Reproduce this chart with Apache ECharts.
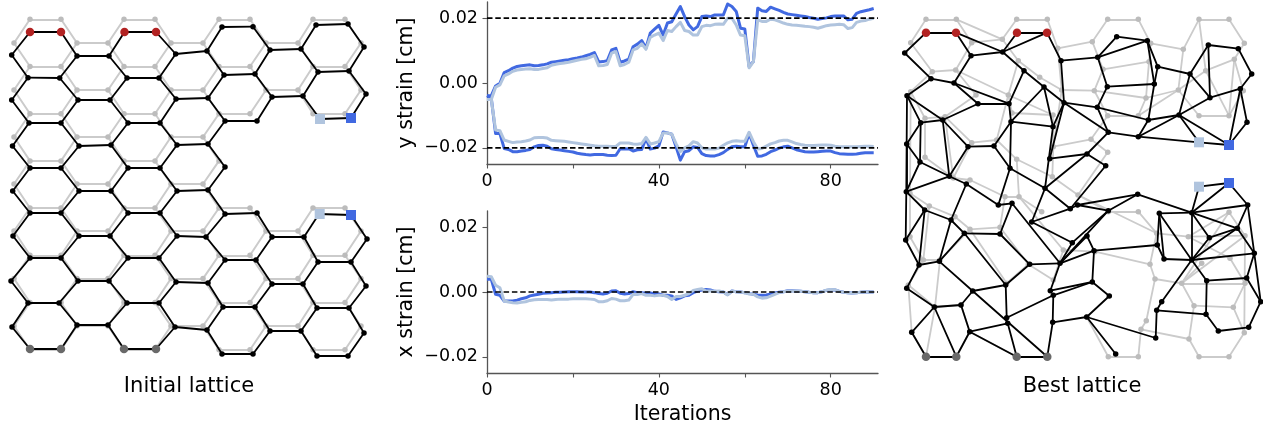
<!DOCTYPE html>
<html><head><meta charset="utf-8"><style>html,body{margin:0;background:#fff}#c{width:1263px;height:428px}</style>
<script src="https://cdn.jsdelivr.net/npm/echarts@6/dist/echarts.min.js"></script></head>
<body><div id="c"></div><script>
// ---- strain curves (1e-4 cm), one value per iteration ----
const yDarkUp=[-39,-39,-9,-1,32,38,46,51,53,55,56,53,54,56,59,64,66,68,70,72,75,77,80,84,88,94,65,66,69,102,107,64,68,74,112,120,131,108,154,166,178,148,185,189,213,236,205,179,164,174,205,207,205,210,210,210,244,236,221,169,167,51,66,231,223,221,234,229,224,218,213,211,209,207,205,202,200,197,199,201,205,207,207,207,195,197,215,220,223,226,230];
const yLightUp=[-51,-51,-13,-6,22,28,36,40,42,43,44,42,42,45,47,55,58,60,62,64,67,70,73,75,79,85,53,54,57,92,97,53,57,64,102,107,121,104,141,148,154,131,162,159,174,187,162,159,148,148,174,178,177,181,182,181,200,200,179,148,146,47,66,195,190,190,197,195,190,185,181,179,178,177,175,174,172,169,173,177,179,180,181,180,168,171,187,191,193,197,200];
const yDarkLow=[-39,-47,-156,-156,-202,-205,-212,-212,-210,-208,-205,-197,-193,-192,-195,-203,-205,-207,-209,-211,-213,-217,-219,-221,-222,-221,-221,-221,-223,-224,-223,-203,-204,-203,-210,-206,-205,-171,-204,-201,-194,-151,-154,-158,-197,-238,-212,-209,-197,-199,-218,-224,-225,-225,-221,-215,-205,-197,-195,-197,-197,-156,-192,-226,-225,-220,-212,-207,-201,-197,-195,-200,-206,-209,-212,-213,-213,-212,-211,-210,-210,-215,-218,-219,-220,-220,-219,-217,-215,-215,-215];
const yLightLow=[-51,-51,-145,-147,-176,-180,-184,-182,-181,-179,-176,-169,-168,-168,-170,-177,-178,-179,-180,-182,-184,-186,-188,-190,-192,-194,-195,-195,-195,-196,-196,-185,-185,-185,-188,-189,-187,-168,-188,-185,-181,-154,-154,-158,-187,-212,-200,-194,-181,-185,-200,-204,-204,-204,-201,-192,-185,-180,-178,-180,-180,-152,-181,-204,-202,-195,-188,-184,-179,-177,-177,-182,-187,-190,-192,-193,-193,-192,-191,-191,-192,-195,-197,-197,-197,-197,-197,-196,-195,-195,-196];
const xDark=[39,39,-7,-10,-28,-28,-28,-25,-21,-18,-12,-9,-7,-4,-3,-2,-1,-1,0,1,1,1,0,0,0,-2,-5,-6,-4,3,4,-4,-6,-5,1,-2,-2,-4,-3,-5,-6,-10,-10,-12,-23,-18,-12,-10,-2,3,6,8,6,2,1,0,-8,3,1,0,-2,-5,-7,-9,-10,-9,-6,-3,-1,1,4,4,3,2,1,-1,-2,-2,1,5,7,6,2,-1,-2,-3,-2,-1,0,0,0];
const xLight=[49,47,21,13,-28,-31,-33,-34,-32,-30,-26,-24,-23,-23,-23,-25,-23,-22,-22,-22,-21,-21,-21,-21,-22,-23,-30,-30,-27,-20,-22,-27,-27,-25,-7,-8,-5,-10,-10,-12,-10,-10,-14,-23,-14,-14,-10,-5,5,8,10,3,3,2,3,0,-9,3,1,0,-2,-6,-7,-15,-19,-18,-13,-7,-2,1,3,3,3,2,1,-1,-2,-2,1,6,8,7,2,-1,-2,-3,-2,-1,0,0,0];
const targetStrain=[-0.02,0.02], yTicks=[-0.02,0,0.02], iterTicks=[0,20,40,60,80], iterLabels=[0,40,80];

// ---- initial lattice: per column, which rows exist and where each node sits ----
const colRows=[[1,3,5,7,9,11,13],[0,2,4,6,8,10,12,14],[0,2,4,6,8,10,12,14],[1,3,5,7,9,11,13],[1,3,5,7,9,11,13],[0,2,4,6,8,10,12,14],[0,2,4,6,8,10,12,14],[1,3,5,7,9,11,13],[1,3,5,7,9,11,13],[0,2,4,6,8,10,12,14],[0,2,4,8,10,12,14],[1,3,9,11,13],[1,3,9,11,13],[0,2,4,8,10,12,14],[0,2,4,8,10,12,14],[1,3,9,11,13]];
const restColX=[14,30,61,77,108,124,155,171,203,219,250,266,298,313,345,361];
const restRowY=[19.3,43,66.5,90,113.7,137,160.9,184,208,231,255.3,278.6,302.5,326,349.7];
const initX=[[11.7,11.7,12.5,12.7,13,11,12],[30,28,29,30,30,30,28,30],[61,59.7,61,61,61,61,59,61],[77,78,79,79,79,78,77],[109,110,111,111,110,109,108],[124.5,127,128,128,128,128,127,124],[156,159,160,160,160,159,159,156],[175.7,176,177,177,177,176,175],[207,208,208,208,206,208,207],[222,224,225,225,225,225,223,222],[253,255,257,257,256,255,253],[270,272,272,272,270],[301,303,304,303,301],[316,318,320,319,318,317,317],[348,349,351,351,351,349,348],[364,366,367,366,364]];
const initY=[[55,100,146,191,236,281,327],[32,77.7,123,168,213,258,303,349],[32,78,123,168,213,258,303,349],[56,100,146,191,236,281,325],[56,100,145,191,236,281,325],[32,78,123,168,213,258,303,349],[32,78,123,168,213,258,303,349],[54,99,145,191,236,282,327],[51,98,144,190,237,283,330],[27,75,121,167,214,260,307,354],[26.7,74,121,213,260,307,354],[50,97,237,284,331],[49,96,237,284,331],[25,72,119,214,262,308,356],[24,71,118,215,262,308,356],[47,94,239,286,333]];
const initRed=[[30,32],[61,32],[124.5,32],[156,32]], initGray=[[30,349],[61,349],[124,349],[156,349]];
const initSqLight=[[320,119],[319.7,214]], initSqDark=[[351,118],[351,215]];

// ---- best lattice: stiff network ----
const bestNodes={R1:[926,32.7],R2:[956,32.7],R3:[1017,32.7],R4:[1047,32.7],A:[904.7,53],B:[971,55.7],C:[1002.7,52],D:[1061,60.7],E:[1024,70.7],F:[931,78.7],G:[954,83],H:[1044,87],I:[907,95.7],J:[978,103.7],K:[1009,103.7],L:[1064,102.7],M:[942.7,120],N:[920.7,122.7],O:[1011,121.7],P:[1053,126.7],Q:[906.7,144],S:[968,146.7],T:[994,146],U:[920,162],V:[1049.7,158.7],W:[1010,168.3],X:[949.3,176.3],Y:[966.3,184],Z:[906.3,191.7],AA:[1045,188.3],
n1:[998.3,205],n2:[951,220],n3:[1012,203.3],n4:[924.7,210],n5:[1031.7,222],n6:[1070.3,208.7],n7:[1077.5,205],n8:[964.3,233.3],n9:[1000,234],n10:[905.7,240],n11:[1072.3,242.7],n12:[939.3,261.3],n13:[919,265],n14:[1029.7,264.3],n15:[1060,263.3],n16:[1005.7,285],n17:[906.7,288.3],n18:[972.7,291],n19:[1050.3,290.7],n20:[1053.3,295.3],n21:[934.3,307],n22:[961,305],n23:[1006.7,317.7],n24:[1007.7,323.3],n25:[1052.7,322.3],n26:[911.7,332.3],n27:[969.7,331.7],B1:[926,356.7],B2:[956.3,356.7],B3:[1016.7,356.7],B4:[1047.3,356.7],
n30:[1097.7,57.3],n31:[1116.7,36.7],n32:[1147.3,40.7],n33:[1157.7,66.7],n34:[1190,74],n35:[1208.3,45],n36:[1238.3,48.7],n37:[1251.7,74],n38:[1240.3,88.7],n39:[1210,97.7],n40:[1107.3,86.7],n41:[1154.3,84],n42:[1097.3,107.3],n43:[1148.3,120],n44:[1179,115],n45:[1247,122.3],n46:[1108.3,132.3],n47:[1138.3,136.7],S1:[1199,142.3],S2:[1229,145],n48:[1087,154],n49:[1105.7,165.7],S3:[1199,186.7],S4:[1229,183],n50:[1137.7,194.3],
n52:[1108.3,210.7],n53:[1159.3,213.3],n54:[1191.7,212.7],n55:[1247.7,205],n56:[1237.3,228.3],n57:[1209.3,237.7],n58:[1087,236],n59:[1094,250.7],n60:[1157.3,245],n61:[1164,259],n62:[1191.7,260],n63:[1254.3,253.3],n64:[1246.7,278],n65:[1206.7,280.7],n66:[1092.3,282],n67:[1109.3,296],n68:[1161.7,301.7],n69:[1260.7,301.7],n70:[1156.7,310.3],n71:[1206,314.3],n72:[1086.7,317],n73:[1218.3,331],n74:[1248.7,327.3],n75:[1155.7,338],n76:[1115.7,354]};
const bestEdges="R1-R2 R3-R4 R1-A A-F F-G F-I G-B B-R2 R2-C B-C C-R3 C-R4 C-E E-H H-L R4-D D-L D-n30 E-K G-K G-J J-K J-M K-O O-H O-P H-P L-P L-V P-AA V-n48 O-W O-T S-T T-W W-AA W-n1 AA-n48 AA-n5 AA-n6 I-M I-N I-Z N-M N-Q N-U Q-U Q-Z M-X M-S S-X U-X U-Z X-Z X-Y Y-n1 Y-n2 Z-n10 Z-n4 n4-n10 n4-n13 n4-n2 n2-n8 n2-n12 n8-n12 n8-n9 n8-n16 n9-n3 n9-n14 n3-n1 n3-n15 n5-n6 n5-n11 n6-n7 n12-n13 n13-n10 n13-n17 n12-n18 n17-n21 n18-n22 n18-n16 n18-B4 n21-n22 n21-n26 n21-B2 n22-n27 n26-B1 B1-B2 B2-n27 n27-n24 n27-B3 B3-B4 n24-B3 n16-n23 n23-n20 n19-n15 n20-n25 n25-B4 n25-n72 n14-n15 n14-n16 n30-n31 n30-n32 n31-n32 n30-n40 n40-n41 n32-n33 n32-n41 n33-n41 n33-n34 n34-n35 n34-n39 n34-n44 n35-n36 n35-n39 n36-n37 n37-n38 n38-n39 n38-n45 n38-S2 n45-S2 n39-n44 n40-n42 n41-n43 n42-n43 n42-n46 L-n42 L-n46 n43-n44 n43-n47 n44-n47 n46-n47 n44-S1 n44-S2 n47-S1 S1-S2 n46-n48 n48-n49 n49-n6 S3-S4 S3-n54 S4-n54 S4-n55 n7-n50 n7-n52 n50-n52 n50-n54 n53-n54 n53-n60 n53-n61 n53-n62 n54-n55 n54-n56 n54-n57 n54-n62 n55-n56 n55-n63 n63-n69 n56-n57 n56-n63 n56-n62 n57-n62 n62-n61 n62-n63 n62-n65 n62-n68 n63-n64 n64-n65 n64-n69 n65-n71 n71-n70 n71-n73 n73-n74 n74-n69 n70-n68 n70-n75 n75-n72 n72-n67 n72-n76 n67-n66 n66-n59 n59-n60 n59-n58 n59-n15 n19-n66 n20-n66 n52-n15 n52-n11 n58-n15 n11-n15 n60-n61".split(" ");
const bestDotNames="A B C D E F G H I J K L M N O P Q S T U V W X Y Z AA n1 n2 n3 n4 n5 n6 n7 n8 n9 n10 n11 n12 n13 n14 n15 n16 n17 n18 n19 n20 n21 n22 n23 n24 n25 n26 n27 n30 n31 n32 n33 n34 n35 n36 n37 n38 n39 n40 n41 n42 n43 n44 n45 n46 n47 n48 n49 n50 n52 n53 n54 n55 n56 n57 n58 n59 n60 n61 n62 n63 n64 n65 n66 n67 n68 n69 n70 n71 n72 n73 n74 n75 n76".split(" ");

// ---- best lattice: rest shape ----
const restNodes={g1:[926,19.3],g2:[956.3,19.3],g3:[910.7,42.7],g4:[971.7,42.7],g5:[1002.3,39.3],g6:[1016.7,19.3],g7:[1047.3,19.3],g8:[1057.7,48.3],g9:[1018.3,60.7],g10:[932.3,71.7],g11:[955.7,70],g12:[1039.7,77.3],g13:[1008.3,95],g14:[976,95],g15:[1061.7,90],g16:[910.7,91.7],g17:[945,116.7],g18:[925,118.3],g19:[1053,115],g20:[1053.3,146.7],g21:[971.7,142.7],g22:[996.7,140],g23:[1016.7,159.3],g24:[925,157.3],g25:[953.3,178],g27:[1052.3,176.7],g28:[970,180],g29:[1005,196.7],g30:[1019,196.7],g35:[1012,113],
h1:[910,193.3],h2:[929.3,206],h3:[955,216.7],h4:[970,229.3],h5:[1000,227.3],h6:[910,236.7],h7:[923.3,260],h8:[940,260],h9:[1028.3,264.3],h10:[1006.7,283.3],h11:[1053.3,280],h12:[1063.3,250],h13:[1041.7,211.7],h14:[908.3,285],h15:[935,307],h16:[961,305],h17:[926,356.7],h18:[956.3,356.7],h19:[1016.7,356.7],h20:[1047.3,356.7],h21:[911.7,332.3],h22:[969.7,331.7],
k1:[1091,139.3],k2:[1107.7,152.3],k3:[1078,195],
t1:[1107.7,19.3],t2:[1138.3,19.3],t3:[1092.3,41.7],t4:[1150.7,43.3],t5:[1183.3,49.3],t6:[1199,19.3],t7:[1229,19.3],t8:[1244.3,43.3],t9:[1234.3,59.3],t10:[1205.7,70.7],t11:[1103,69.3],t12:[1149,61.7],t13:[1178.3,90],t14:[1094.3,90.7],t15:[1146,98],t16:[1243.3,90.7],t17:[1107.7,115.7],t18:[1138.3,115.7],t19:[1199,115.7],t20:[1229,115.7],
m1:[1108.3,211.7],m2:[1138.3,211.7],m3:[1156.7,233.3],m4:[1188.3,236.7],m5:[1245,235.7],m6:[1095,251.7],m7:[1150,264.3],m8:[1155,279],m9:[1181.7,283.3],m10:[1245,283.3],m11:[1230,258.3],m12:[1201.7,263.3],m13:[1229,212.3],m14:[1194,305.7],m15:[1233.3,307.3],m16:[1189,339],m17:[1244.3,332.7],m18:[1146.3,320.7],m19:[1141,329.3],m20:[1138.3,356.7],m21:[1108.3,356.7],m22:[1199,356.7],m23:[1229,356.7],m24:[1086.7,317]};
const restEdges="g1-g2 g1-g3 g3-g10 g2-g4 g4-g11 g10-g11 g2-g5 g4-g5 g5-g6 g6-g7 g7-g8 g5-g9 g9-g13 g9-g12 g11-g13 g11-g14 g10-g16 g14-g17 g16-g18 g17-g18 g8-g15 g12-g15 g13-g19 g35-g19 g13-g35 g16-h1 g18-g24 g17-g21 g21-g22 g22-g23 g23-g27 g13-g22 g17-g25 g21-g25 g24-g25 g25-g28 g28-g29 g29-g30 g30-g23 g15-g20 g19-g20 g20-g27 g20-k1 h1-h2 h2-h3 h3-h4 h4-h5 h5-g29 h1-h6 h2-h7 h6-h7 h7-h8 h4-h8 h4-h10 h5-h9 h9-h10 g30-h12 g30-h13 h12-h11 h9-h11 h8-h15 h14-h15 h14-h7 h15-h16 h15-h17 h17-h18 h18-h22 h16-h22 h19-h20 h22-h19 h21-h17 h14-h21 g27-k3 k2-k3 k1-k2 k1-t17 g8-t3 g15-t14 t1-t2 t1-t3 t2-t4 t3-t11 t11-t12 t4-t5 t4-t12 t12-t15 t5-t13 t13-t15 t13-t18 t6-t7 t6-t5 t6-t10 t7-t8 t8-t9 t9-t10 t10-t13 t10-t20 t9-t20 t9-t16 t16-t20 t13-t19 t19-t20 t17-t18 t14-t15 t14-t17 t11-t14 t18-t15 k3-m1 m1-m2 m2-m3 k3-m3 m3-m4 m3-m7 m6-m7 m7-m8 m8-m9 m9-m10 m9-m5 m9-m13 m9-m14 m14-m15 m14-m16 m15-m10 m15-m17 m17-m5 m17-m23 m22-m23 m16-m22 m16-m19 m19-m20 m20-m21 m21-m24 m8-m18 m18-m19 m4-m5 m4-m13 m13-m5 m4-m11 m11-m10 m12-m9 h12-m6".split(" ");

// ---- helpers ----
const cm=a=>a.map((v,i)=>[i,v/10000]);
const pick=(table,names)=>names.map(n=>table[n]);
const toLines=(table,list)=>list.map(e=>{const [a,b]=e.split("-");return {coords:[table[a],table[b]]};});

const restPts=[],restSeg=[],initPts=[],initSeg=[];
colRows.forEach((rows,c)=>rows.forEach((r,k)=>{
  restPts.push([restColX[c],restRowY[r]]);
  initPts.push([initX[c][k],initY[c][k]]);
}));
function link(c1,r1,c2,r2){
  const k1=colRows[c1].indexOf(r1),k2=colRows[c2].indexOf(r2);
  if(k1<0||k2<0)return;
  restSeg.push({coords:[[restColX[c1],restRowY[r1]],[restColX[c2],restRowY[r2]]]});
  initSeg.push({coords:[[initX[c1][k1],initY[c1][k1]],[initX[c2][k2],initY[c2][k2]]]});
}
for(let c=0;c<15;c++)colRows[c].forEach(r=>{
  if(c%2===1)link(c,r,c+1,r);
  else{link(c,r,c+1,r-1);link(c,r,c+1,r+1);}
});

const FONT='"DejaVu Sans"',GREY='#cbcbcb',GREYDOT='#bcbcbc';
const RED='#b22222',DIM='#696969',ROYAL='#4169e1',STEEL='#b0c4de';
const segs=(g,d,color,w,z)=>({type:'lines',coordinateSystem:'cartesian2d',xAxisIndex:g,yAxisIndex:g,polyline:false,data:d,lineStyle:{color,width:w,opacity:1,cap:'round'},effect:{show:false},z,silent:true,animation:false});
const dots=(g,d,color,size,symbol,z)=>({type:'scatter',xAxisIndex:g,yAxisIndex:g,data:d,symbol,symbolSize:size,itemStyle:{color,opacity:1},z,silent:true,animation:false});
const curve=(g,d,color,w)=>({type:'line',xAxisIndex:g,yAxisIndex:g,data:d,showSymbol:false,smooth:false,lineStyle:{color,width:w,join:'round'},z:3,silent:true,animation:false,clip:true});
const target=(g,v)=>({type:'line',xAxisIndex:g,yAxisIndex:g,data:[[0,v],[91,v]],showSymbol:false,lineStyle:{color:'#000',width:1.7,type:[5.5,2.8]},z:5,silent:true,animation:false});
const hiddenX=(min,max,gi)=>({type:'value',gridIndex:gi,min,max,show:false,scale:true});
const hiddenY=(gi)=>({type:'value',gridIndex:gi,min:0,max:428,inverse:true,show:false});
const SP='#555';
const fmtY=v=>v===0?'0.00':(v<0?'\u2212':'')+Math.abs(v).toFixed(2);
const iterAxis=(gi,name)=>({type:'value',gridIndex:gi,min:0,max:91,name,nameLocation:'middle',nameGap:31,nameTextStyle:{fontFamily:FONT,fontSize:20.5,color:'#000'},
  axisLine:{show:true,onZero:false,lineStyle:{color:SP,width:1.3}},axisTick:{show:true,length:4.5,customValues:iterTicks,lineStyle:{color:SP,width:1.1}},
  axisLabel:{fontFamily:FONT,fontSize:17.5,color:'#000',margin:8,customValues:iterLabels,formatter:v=>String(v)},splitLine:{show:false}});
const strainAxis=(gi,name)=>({type:'value',gridIndex:gi,min:-0.025,max:0.025,name,nameLocation:'middle',nameGap:70,nameTextStyle:{fontFamily:FONT,fontSize:20.5,color:'#000'},
  axisLine:{show:true,onZero:false,lineStyle:{color:SP,width:1.3}},axisTick:{show:true,length:4.5,customValues:yTicks,lineStyle:{color:SP,width:1.1}},
  axisLabel:{fontFamily:FONT,fontSize:17.5,color:'#000',margin:9,padding:[2,0,0,0],customValues:yTicks,formatter:fmtY},splitLine:{show:false}});

const chart=echarts.init(document.getElementById('c'),null,{renderer:'canvas'});
chart.setOption({animation:false,backgroundColor:'#fff',
  title:[
    {text:'Initial lattice',left:189,top:376,textAlign:'center',textStyle:{fontFamily:FONT,fontSize:21,fontWeight:'normal',color:'#000'},padding:0},
    {text:'Best lattice',left:1082,top:376,textAlign:'center',textStyle:{fontFamily:FONT,fontSize:21,fontWeight:'normal',color:'#000'},padding:0}
  ],
  grid:[
    {left:0,top:0,width:400,height:428},
    {left:487,top:2,width:391,height:162},
    {left:487,top:211,width:391,height:162},
    {left:890,top:0,width:373,height:428}
  ],
  xAxis:[hiddenX(0,400,0),iterAxis(1,''),iterAxis(2,'Iterations'),hiddenX(890,1263,3)],
  yAxis:[hiddenY(0),strainAxis(1,'y strain [cm]'),strainAxis(2,'x strain [cm]'),hiddenY(3)],
  series:[
    segs(0,restSeg,GREY,2,1),dots(0,restPts,GREYDOT,5.5,'circle',2),
    segs(0,initSeg,'#000',1.8,3),dots(0,initPts,'#000',5.5,'circle',4),
    dots(0,initRed,RED,8.5,'circle',6),dots(0,initGray,DIM,8.5,'circle',6),
    dots(0,initSqLight,STEEL,10,'rect',6),dots(0,initSqDark,ROYAL,10,'rect',6),

    curve(1,cm(yDarkUp),ROYAL,3),curve(1,cm(yDarkLow),ROYAL,3),
    curve(1,cm(yLightUp),STEEL,3),curve(1,cm(yLightLow),STEEL,3),
    target(1,targetStrain[0]),target(1,targetStrain[1]),

    curve(2,cm(xDark),ROYAL,3),curve(2,cm(xLight),STEEL,3),
    target(2,0),

    segs(3,toLines(restNodes,restEdges),GREY,1.8,1),dots(3,Object.values(restNodes),GREYDOT,5.5,'circle',2),
    segs(3,toLines(bestNodes,bestEdges),'#000',1.8,3),dots(3,pick(bestNodes,bestDotNames),'#000',5.5,'circle',4),
    dots(3,pick(bestNodes,['R1','R2','R3','R4']),RED,8.5,'circle',6),dots(3,pick(bestNodes,['B1','B2','B3','B4']),DIM,8.5,'circle',6),
    dots(3,pick(bestNodes,['S1','S3']),STEEL,10,'rect',6),dots(3,pick(bestNodes,['S2','S4']),ROYAL,10,'rect',6)
  ]
});
</script></body></html>
